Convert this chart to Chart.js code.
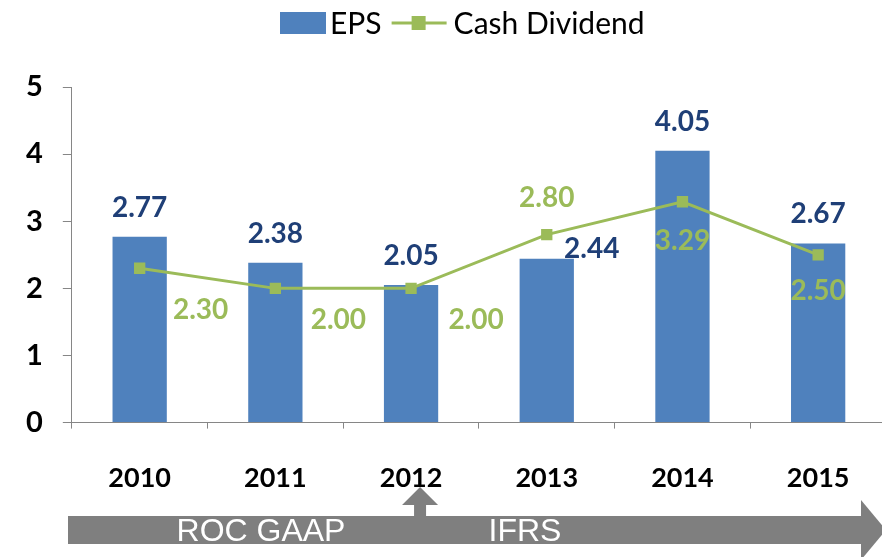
<!DOCTYPE html>
<html lang="en">
<head>
<meta charset="utf-8">
<title>EPS and Cash Dividend</title>
<style>
  html, body { margin: 0; padding: 0; background: #fff; overflow: hidden; }
  #wrap { width: 882px; height: 557px; overflow: hidden; }
</style>
</head>
<body>
<div id="wrap"><canvas id="myChart" width="894" height="557"></canvas></div>

<script src="https://cdn.jsdelivr.net/npm/chart.js@4.4.1/dist/chart.umd.min.js"></script>
<script>
// data
const years = ['2010', '2011', '2012', '2013', '2014', '2015'];
const eps = [2.77, 2.38, 2.05, 2.44, 4.05, 2.67];
const cashDividend = [2.30, 2.00, 2.00, 2.80, 3.29, 2.50];
const yMin = 0, yMax = 5, yStep = 1;

// where each value label sits, relative to bar top / line point
const epsLabelShift = [[0, -29], [0, -29], [0, -29], [45, -10], [0, -29], [0, -29]];
const cashLabelShift = [[61, 42], [63, 32], [65, 32], [0, -37], [0, 39], [0, 36]];

const BLUE = '#4f81bd';
const GREEN = '#9bbb59';
const FONT = 'Lato, "Open Sans", sans-serif';
const VIEW_W = 882; // visible width, the canvas runs a bit past it

// value labels next to bars and points
const valueLabels = {
    id: 'valueLabels',
    afterDatasetsDraw(chart) {
        const ctx = chart.ctx;
        ctx.save();
        ctx.textAlign = 'center';
        ctx.textBaseline = 'middle';
        ctx.font = 'bold 28px ' + FONT;
        chart.getDatasetMeta(0).data.forEach((el, i) => {
            ctx.fillStyle = '#1f3f77';
            ctx.fillText(eps[i].toFixed(2), el.x + epsLabelShift[i][0], el.y + epsLabelShift[i][1]);
        });
        chart.getDatasetMeta(1).data.forEach((el, i) => {
            ctx.fillStyle = GREEN;
            ctx.fillText(cashDividend[i].toFixed(2), el.x + cashLabelShift[i][0], el.y + cashLabelShift[i][1]);
        });
        ctx.restore();
    }
};

// legend drawn by hand: box for EPS, line with square for the dividend
const topLegend = {
    id: 'topLegend',
    afterDraw(chart) {
        const ctx = chart.ctx;
        ctx.save();
        ctx.font = '30px ' + FONT;
        ctx.textBaseline = 'middle';
        let x = 280, y = 23;
        ctx.fillStyle = BLUE;
        ctx.fillRect(x, y - 11, 46, 22);
        x += 50;
        ctx.fillStyle = '#000';
        ctx.fillText(chart.data.datasets[0].label, x, y + 1);
        x += ctx.measureText(chart.data.datasets[0].label).width + 10;
        ctx.strokeStyle = GREEN;
        ctx.lineWidth = 3;
        ctx.beginPath();
        ctx.moveTo(x, y);
        ctx.lineTo(x + 55, y);
        ctx.stroke();
        ctx.fillStyle = GREEN;
        ctx.fillRect(x + 20, y - 7, 14, 14);
        x += 62;
        ctx.fillStyle = '#000';
        ctx.fillText(chart.data.datasets[1].label, x, y + 1);
        ctx.restore();
    }
};

// accounting standard arrow under the years
const standardArrow = {
    id: 'standardArrow',
    afterDraw(chart) {
        const ctx = chart.ctx;
        const xs = chart.scales.x;
        const w = VIEW_W;
        ctx.save();
        ctx.fillStyle = '#7f7f7f';
        // main bar + head
        ctx.fillRect(68, 516, w - 88, 28);
        ctx.beginPath();
        ctx.moveTo(w - 21, 500);
        ctx.lineTo(w + 4, 530);
        ctx.lineTo(w - 21, 560);
        ctx.closePath();
        ctx.fill();
        // switch point marker at 2012
        const ax = xs.getPixelForValue(2) + 9;
        ctx.fillRect(ax - 6, 503, 12, 14);
        ctx.beginPath();
        ctx.moveTo(ax - 18, 505);
        ctx.lineTo(ax, 487);
        ctx.lineTo(ax + 18, 505);
        ctx.closePath();
        ctx.fill();
        ctx.fillStyle = '#fff';
        ctx.font = '32px "Liberation Sans", Arial, sans-serif';
        ctx.textAlign = 'center';
        ctx.textBaseline = 'middle';
        ctx.fillText('ROC GAAP', 261, 532);
        ctx.fillText('IFRS', 525, 532);
        ctx.restore();
    }
};

const ctx = document.getElementById('myChart').getContext('2d');
const chart = new Chart(ctx, {
    data: {
        labels: years,
        datasets: [{
            type: 'bar',
            label: 'EPS',
            data: eps,
            backgroundColor: BLUE,
            barPercentage: 0.4,
            categoryPercentage: 1,
            order: 2
        }, {
            type: 'line',
            label: 'Cash Dividend',
            data: cashDividend,
            borderColor: GREEN,
            backgroundColor: GREEN,
            borderWidth: 3,
            pointStyle: 'rect',
            pointRadius: 8,
            pointBorderWidth: 0,
            tension: 0,
            order: 1
        }]
    },
    options: {
        responsive: false,
        animation: false,
        layout: { padding: { top: 87, left: 6, right: 0, bottom: 30 } },
        plugins: {
            legend: { display: false },
            tooltip: { enabled: false }
        },
        scales: {
            x: {
                grid: { drawOnChartArea: false, tickLength: 6, color: '#868686', offset: true },
                border: { color: '#868686' },
                ticks: { color: '#000', padding: 33, font: { family: FONT, size: 27, weight: 'bold' } }
            },
            y: {
                min: yMin,
                max: yMax,
                grid: { drawOnChartArea: false, tickLength: 9, color: '#868686' },
                border: { color: '#868686' },
                ticks: { stepSize: yStep, color: '#000', padding: 20, font: { family: FONT, size: 29, weight: 'bold' } }
            }
        }
    },
    plugins: [valueLabels, topLegend, standardArrow]
});
</script>
</body>
</html>
